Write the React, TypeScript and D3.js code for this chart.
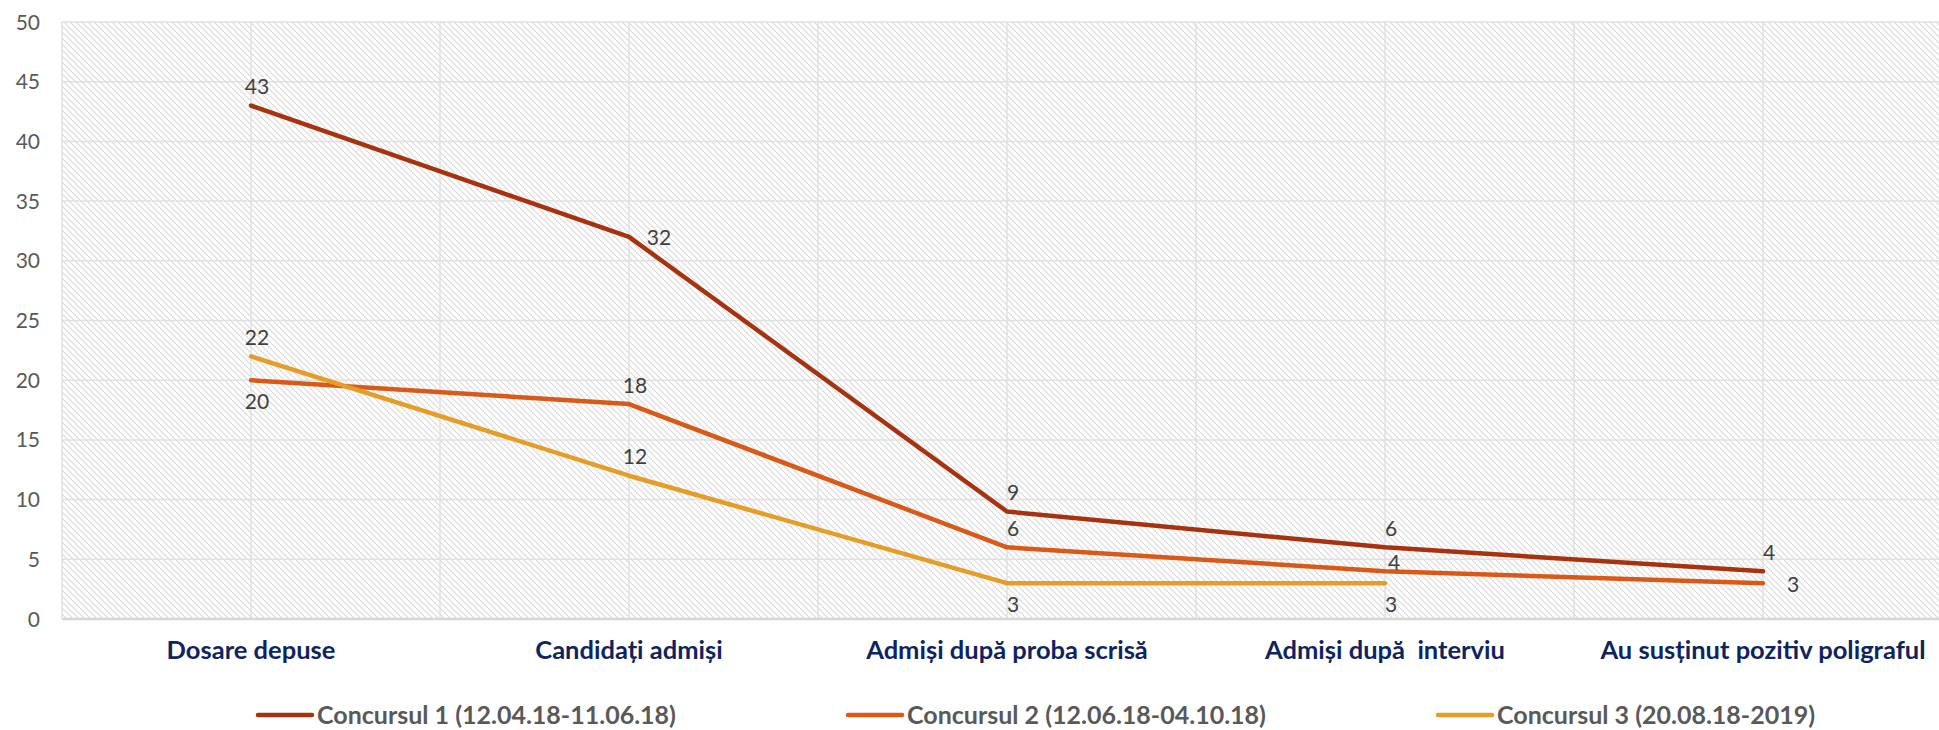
import React, { useEffect, useRef } from "react";
import * as d3 from "d3";

const categories = [
  "Dosare depuse",
  "Candidați admiși",
  "Admiși după proba scrisă",
  "Admiși după  interviu",
  "Au susținut pozitiv poligraful",
];

const seriesNames = [
  "Concursul 1 (12.04.18-11.06.18)",
  "Concursul 2 (12.06.18-04.10.18)",
  "Concursul 3 (20.08.18-2019)",
];

const concurs1 = [43, 32, 9, 6, 4];
const concurs2 = [20, 18, 6, 4, 3];
const concurs3: (number | null)[] = [22, 12, 3, 3, null];

const yTicks = [0, 5, 10, 15, 20, 25, 30, 35, 40, 45, 50];

const seriesColors = ["#A7320F", "#D95A18", "#E59D27"];

// label placement per point: t = above, b = below, r = right, n = slightly above
const place1 = ["t", "r", "t", "t", "t"];
const place2 = ["b", "t", "t", "n", "r"];
const place3 = ["t", "t", "b", "b", "t"];

const W = 1939;
const H = 730;
const M = { left: 62, right: -13, top: 22, bottom: 111 };

export default function App() {
  const ref = useRef<SVGSVGElement | null>(null);

  useEffect(() => {
    const svg = d3.select(ref.current);
    svg.selectAll("*").remove();

    const x = d3
      .scaleBand<string>()
      .domain(categories)
      .range([M.left, W - M.right])
      .paddingInner(0)
      .paddingOuter(0);
    const bw = x.bandwidth();
    const cx = (c: string) => (x(c) as number) + bw / 2;
    const y = d3.scaleLinear().domain([0, 50]).range([H - M.bottom, M.top]);

    const defs = svg.append("defs");
    const pat = defs
      .append("pattern")
      .attr("id", "hatch")
      .attr("patternUnits", "userSpaceOnUse")
      .attr("width", 6)
      .attr("height", 6);
    pat.append("rect").attr("width", 6).attr("height", 6).attr("fill", "#ffffff");
    pat
      .append("path")
      .attr("d", "M-1,-1 L7,7 M-4,2 L2,8 M2,-4 L8,2")
      .attr("stroke", "#d9d9d9")
      .attr("stroke-width", 1.1);

    const x0 = M.left;
    const x1 = W - M.right;
    const y0 = y(0);
    const y1 = y(50);

    svg
      .append("rect")
      .attr("x", x0)
      .attr("y", y1)
      .attr("width", x1 - x0)
      .attr("height", y0 - y1)
      .attr("fill", "url(#hatch)");

    // horizontal gridlines
    svg
      .append("g")
      .selectAll("line")
      .data(yTicks.filter((t) => t > 0))
      .join("line")
      .attr("x1", x0)
      .attr("x2", x1)
      .attr("y1", (d) => y(d))
      .attr("y2", (d) => y(d))
      .attr("stroke", "#e0e0e0")
      .attr("stroke-width", 1.5);

    // vertical gridlines (category boundaries and centers)
    const vx: number[] = [];
    categories.forEach((c) => {
      vx.push(x(c) as number);
      vx.push(cx(c));
    });
    svg
      .append("g")
      .selectAll("line")
      .data(vx)
      .join("line")
      .attr("x1", (d) => d)
      .attr("x2", (d) => d)
      .attr("y1", y1)
      .attr("y2", y0)
      .attr("stroke", "#e0e0e0")
      .attr("stroke-width", 1.5);

    // x axis line
    svg
      .append("line")
      .attr("x1", x0)
      .attr("x2", x1)
      .attr("y1", y0)
      .attr("y2", y0)
      .attr("stroke", "#d6d6d6")
      .attr("stroke-width", 2.5);

    // y tick labels
    svg
      .append("g")
      .selectAll("text")
      .data(yTicks)
      .join("text")
      .attr("x", 40)
      .attr("y", (d) => y(d))
      .attr("dy", "0.36em")
      .attr("text-anchor", "end")
      .attr("font-family", "Lato, 'Open Sans', sans-serif")
      .attr("font-size", 21)
      .attr("fill", "#595959")
      .text((d) => String(d));

    // category labels
    svg
      .append("g")
      .selectAll("text")
      .data(categories)
      .join("text")
      .attr("x", (c) => cx(c))
      .attr("y", 659)
      .attr("text-anchor", "middle")
      .attr("font-family", "Lato, 'Open Sans', sans-serif")
      .attr("font-weight", 700)
      .attr("font-size", 25.5)
      .attr("fill", "#0E2461")
      .style("white-space", "pre")
      .text((c) => c);

    const allSeries = [concurs1, concurs2, concurs3];
    const places = [place1, place2, place3];

    allSeries.forEach((vals, si) => {
      const pts = categories
        .map((c, i) => ({ c, v: vals[i] as number | null, i }))
        .filter((p) => p.v !== null && p.v !== undefined) as {
        c: string;
        v: number;
        i: number;
      }[];
      const line = d3
        .line<{ c: string; v: number }>()
        .x((d) => cx(d.c))
        .y((d) => y(d.v));
      svg
        .append("path")
        .datum(pts)
        .attr("d", line)
        .attr("fill", "none")
        .attr("stroke", seriesColors[si])
        .attr("stroke-width", 4.5)
        .attr("stroke-linejoin", "round")
        .attr("stroke-linecap", "round");
    });

    // data labels
    allSeries.forEach((vals, si) => {
      vals.forEach((v, i) => {
        if (v === null || v === undefined) return;
        const p = places[si][i];
        let dx = 6;
        let dy = -19;
        if (p === "b") dy = 21;
        if (p === "n") {
          dy = -9;
          dx = 9;
        }
        if (p === "r") {
          dx = 30;
          dy = 1;
        }
        svg
          .append("text")
          .attr("x", cx(categories[i]) + dx)
          .attr("y", y(v) + dy)
          .attr("dy", "0.36em")
          .attr("text-anchor", "middle")
          .attr("font-family", "Lato, 'Open Sans', sans-serif")
          .attr("font-size", 21)
          .attr("fill", "#404040")
          .text(String(v));
      });
    });

    // legend
    const legendY = 715;
    const legendStart = 258;
    const legendStep = 590;
    seriesNames.forEach((name, i) => {
      const lx = legendStart + i * legendStep;
      svg
        .append("line")
        .attr("x1", lx)
        .attr("x2", lx + 54)
        .attr("y1", legendY)
        .attr("y2", legendY)
        .attr("stroke", seriesColors[i])
        .attr("stroke-width", 4.5)
        .attr("stroke-linecap", "round");
      svg
        .append("text")
        .attr("x", lx + 59)
        .attr("y", legendY)
        .attr("dy", "0.36em")
        .attr("font-family", "Lato, 'Open Sans', sans-serif")
        .attr("font-weight", 700)
        .attr("font-size", 25)
        .attr("fill", "#595959")
        .text(name);
    });
  }, []);

  return (
    <svg
      ref={ref}
      width={W}
      height={H}
      style={{ position: "absolute", left: 0, top: 0, display: "block", overflow: "hidden" }}
    />
  );
}
